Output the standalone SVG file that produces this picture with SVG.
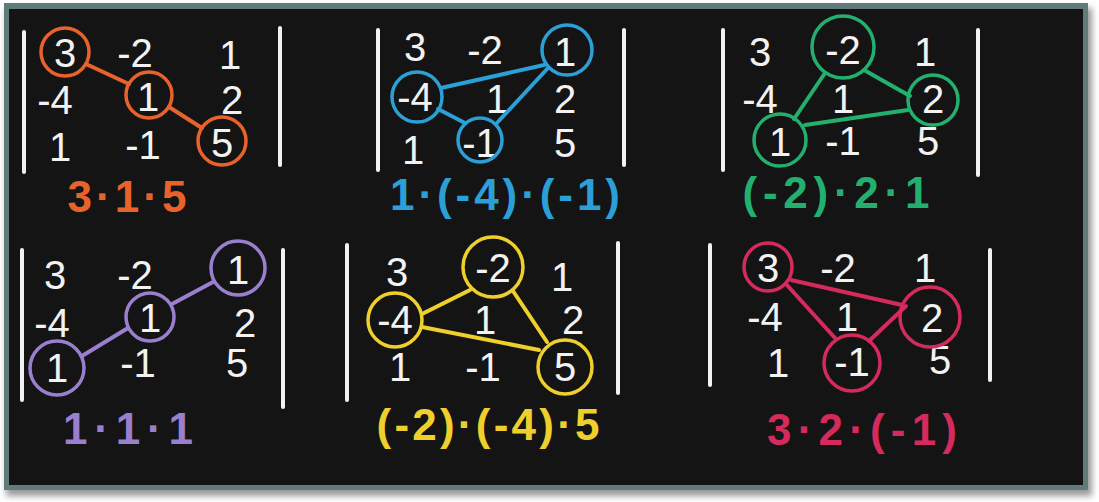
<svg xmlns="http://www.w3.org/2000/svg" width="1099" height="502" viewBox="0 0 1099 502">
<defs>
<filter id="sh" x="-5%" y="-5%" width="110%" height="115%"><feGaussianBlur stdDeviation="3"/></filter>
</defs>
<style>
.e{font-family:"Liberation Sans","DejaVu Sans",sans-serif;font-size:40px;fill:#f2f2f2;text-anchor:middle}
.lb{font-family:"Liberation Sans","DejaVu Sans",sans-serif;font-size:44px;font-weight:bold;text-anchor:middle}
.bar{stroke:#f2f2f2;stroke-width:4;stroke-linecap:round;fill:none}
.c{fill:none;stroke-width:3.5}
.ln{stroke-width:4;stroke-linecap:round;fill:none}
.or{stroke:#e8632b}.ort{fill:#e8632b}
.bl{stroke:#2b9fd6}.blt{fill:#2b9fd6}
.gr{stroke:#23b06e}.grt{fill:#23b06e}
.pu{stroke:#9a7fcf}.put{fill:#9a7fcf}
.ye{stroke:#efcf2c}.yet{fill:#efcf2c}
.pk{stroke:#d42a5c}.pkt{fill:#d42a5c}
</style>
<rect x="0" y="0" width="1099" height="502" fill="#ffffff"/>
<rect x="6" y="8" width="1086" height="488" fill="#9a9a9a" filter="url(#sh)"/>
<rect x="4" y="3" width="1084" height="487" fill="#617b7b"/>
<rect x="9" y="9" width="1074" height="476" fill="#141414"/>

<g id="panel1">
<line class="bar" x1="24" y1="32" x2="24" y2="172"/>
<line class="bar" x1="280" y1="28" x2="280" y2="165"/>
<text class="e" x="65" y="67">3</text><text class="e" x="135" y="67">-2</text><text class="e" x="230" y="69">1</text>
<text class="e" x="55" y="114">-4</text><text class="e" x="148" y="111">1</text><text class="e" x="232" y="114">2</text>
<text class="e" x="60" y="161">1</text><text class="e" x="143" y="159">-1</text><text class="e" x="222" y="157">5</text>
<circle class="c or" cx="65" cy="52" r="24"/><circle class="c or" cx="149" cy="95" r="23"/><circle class="c or" cx="222" cy="141" r="24"/>
<g id="connectors1"><line class="ln or" x1="86" y1="64" x2="129" y2="84"/><line class="ln or" x1="169" y1="107" x2="202" y2="128"/></g>
<text class="lb ort" x="127" y="212" textLength="119" lengthAdjust="spacing">3·1·5</text>
</g>

<g id="panel2">
<line class="bar" x1="378" y1="30" x2="378" y2="170"/>
<line class="bar" x1="624" y1="30" x2="624" y2="165"/>
<text class="e" x="415" y="61">3</text><text class="e" x="485" y="64">-2</text><text class="e" x="565" y="66">1</text>
<text class="e" x="415" y="111">-4</text><text class="e" x="497" y="113">1</text><text class="e" x="565" y="113">2</text>
<text class="e" x="413" y="164">1</text><text class="e" x="480" y="157">-1</text><text class="e" x="565" y="157">5</text>
<circle class="c bl" cx="567" cy="50" r="25"/><circle class="c bl" cx="417" cy="97" r="25"/><circle class="c bl" cx="480" cy="140" r="22"/>
<g id="connectors2"><line class="ln bl" x1="441" y1="88" x2="544" y2="65"/><line class="ln bl" x1="438" y1="109" x2="465" y2="123"/><line class="ln bl" x1="496" y1="124" x2="548" y2="68"/></g>
<text class="lb blt" x="505" y="210" textLength="230" lengthAdjust="spacing">1·(-4)·(-1)</text>
</g>

<g id="panel3">
<line class="bar" x1="723" y1="30" x2="723" y2="170"/>
<line class="bar" x1="978" y1="30" x2="978" y2="175"/>
<text class="e" x="760" y="66">3</text><text class="e" x="843" y="64">-2</text><text class="e" x="925" y="66">1</text>
<text class="e" x="760" y="113">-4</text><text class="e" x="843" y="113">1</text><text class="e" x="933" y="113">2</text>
<text class="e" x="780" y="156">1</text><text class="e" x="843" y="155">-1</text><text class="e" x="928" y="155">5</text>
<circle class="c gr" cx="843" cy="47" r="31"/><circle class="c gr" cx="933" cy="100" r="25"/><circle class="c gr" cx="780" cy="140" r="26"/>
<g id="connectors3"><line class="ln gr" x1="794" y1="119" x2="825" y2="73"/><line class="ln gr" x1="864" y1="70" x2="910" y2="96"/><line class="ln gr" x1="805" y1="125" x2="908" y2="110"/></g>
<text class="lb grt" x="836" y="208" textLength="187" lengthAdjust="spacing">(-2)·2·1</text>
</g>

<g id="panel4">
<line class="bar" x1="22" y1="250" x2="22" y2="400"/>
<line class="bar" x1="283" y1="250" x2="283" y2="407"/>
<text class="e" x="55" y="289">3</text><text class="e" x="135" y="289">-2</text><text class="e" x="238" y="284">1</text>
<text class="e" x="52" y="337">-4</text><text class="e" x="150" y="332">1</text><text class="e" x="245" y="337">2</text>
<text class="e" x="57" y="382">1</text><text class="e" x="138" y="377">-1</text><text class="e" x="237" y="377">5</text>
<circle class="c pu" cx="238" cy="268" r="27"/><circle class="c pu" cx="150" cy="317" r="24"/><circle class="c pu" cx="57" cy="368" r="27"/>
<g id="connectors4"><line class="ln pu" x1="82" y1="356" x2="128" y2="328"/><line class="ln pu" x1="172" y1="304" x2="213" y2="282"/></g>
<text class="lb put" x="128" y="444" textLength="130" lengthAdjust="spacing">1·1·1</text>
</g>

<g id="panel5">
<line class="bar" x1="347" y1="245" x2="347" y2="400"/>
<line class="bar" x1="618" y1="243" x2="618" y2="393"/>
<text class="e" x="397" y="286">3</text><text class="e" x="493" y="282">-2</text><text class="e" x="562" y="291">1</text>
<text class="e" x="395" y="334">-4</text><text class="e" x="485" y="334">1</text><text class="e" x="573" y="334">2</text>
<text class="e" x="400" y="381">1</text><text class="e" x="483" y="381">-1</text><text class="e" x="565" y="381">5</text>
<circle class="c ye" cx="493" cy="267" r="30"/><circle class="c ye" cx="395" cy="320" r="27"/><circle class="c ye" cx="565" cy="367" r="27"/>
<g id="connectors5"><line class="ln ye" x1="422" y1="314" x2="470" y2="290"/><line class="ln ye" x1="513" y1="291" x2="547" y2="342"/><line class="ln ye" x1="422" y1="327" x2="539" y2="350"/></g>
<text class="lb yet" x="488" y="440" textLength="223" lengthAdjust="spacing">(-2)·(-4)·5</text>
</g>

<g id="panel6">
<line class="bar" x1="710" y1="245" x2="710" y2="385"/>
<line class="bar" x1="990" y1="250" x2="990" y2="380"/>
<text class="e" x="768" y="282">3</text><text class="e" x="838" y="282">-2</text><text class="e" x="925" y="282">1</text>
<text class="e" x="765" y="331">-4</text><text class="e" x="847" y="331">1</text><text class="e" x="932" y="332">2</text>
<text class="e" x="778" y="377">1</text><text class="e" x="852" y="376">-1</text><text class="e" x="940" y="374">5</text>
<circle class="c pk" cx="768" cy="267" r="24"/><circle class="c pk" cx="930" cy="317" r="30"/><circle class="c pk" cx="852" cy="363" r="28"/>
<g id="connectors6"><line class="ln pk" x1="791" y1="280" x2="902" y2="305"/><line class="ln pk" x1="786" y1="284" x2="835" y2="338"/><line class="ln pk" x1="869" y1="341" x2="906" y2="306"/></g>
<text class="lb pkt" x="862" y="445" textLength="190" lengthAdjust="spacing">3·2·(-1)</text>
</g>
</svg>
